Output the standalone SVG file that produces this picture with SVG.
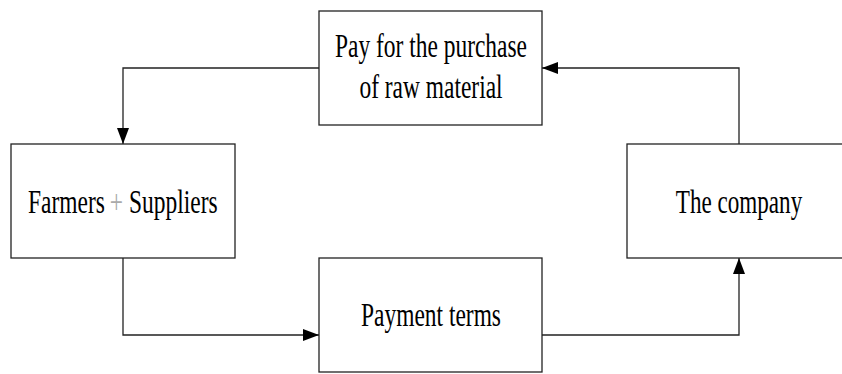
<svg xmlns="http://www.w3.org/2000/svg" width="842" height="374" viewBox="0 0 842 374">
<style>
.box{fill:#fff;stroke:#222;stroke-width:1.3}
.ln{fill:none;stroke:#222;stroke-width:1.3}
.t{font-family:"Liberation Serif","Times New Roman",serif;font-size:34px;fill:#000;text-anchor:middle}
.s{font-family:"Liberation Serif","Times New Roman",serif;font-size:34px;fill:#000}
.g{fill:#aaa}
</style>
<defs>
<marker id="ah" markerUnits="userSpaceOnUse" markerWidth="16" markerHeight="12" refX="16" refY="6" orient="auto">
<path d="M0,0 L16,6 L0,12 z" fill="#000"/>
</marker>
</defs>
<rect width="842" height="374" fill="#fff"/>
<g id="connectors">
<polyline class="ln" points="319,68 123,68 123,144" marker-end="url(#ah)"/>
<polyline class="ln" points="123,258 123,335 319,335" marker-end="url(#ah)"/>
<polyline class="ln" points="542,335 739,335 739,258" marker-end="url(#ah)"/>
<polyline class="ln" points="739,144 739,68 542,68" marker-end="url(#ah)"/>
</g>
<g id="node-pay">
<rect class="box" x="319" y="11" width="223" height="114"/>
<g transform="translate(431,57) scale(0.69,1)"><text class="t">Pay for the purchase</text></g>
<g transform="translate(431,98) scale(0.69,1)"><text class="t">of raw material</text></g>
</g>
<g id="node-farmers">
<rect class="box" x="11" y="144" width="224" height="114"/>
<g transform="translate(0,213) scale(0.69,1)">
<text class="s" x="40.6">Farmers</text>
<text class="s g" x="159">+</text>
<text class="s" x="187">Suppliers</text>
</g>
</g>
<g id="node-terms">
<rect class="box" x="319" y="258" width="223" height="114"/>
<g transform="translate(431,326) scale(0.69,1)"><text class="t">Payment terms</text></g>
</g>
<g id="node-company">
<rect class="box" x="627" y="144" width="224" height="114"/>
<g transform="translate(739,213) scale(0.68,1)"><text class="t">The company</text></g>
</g>
</svg>
